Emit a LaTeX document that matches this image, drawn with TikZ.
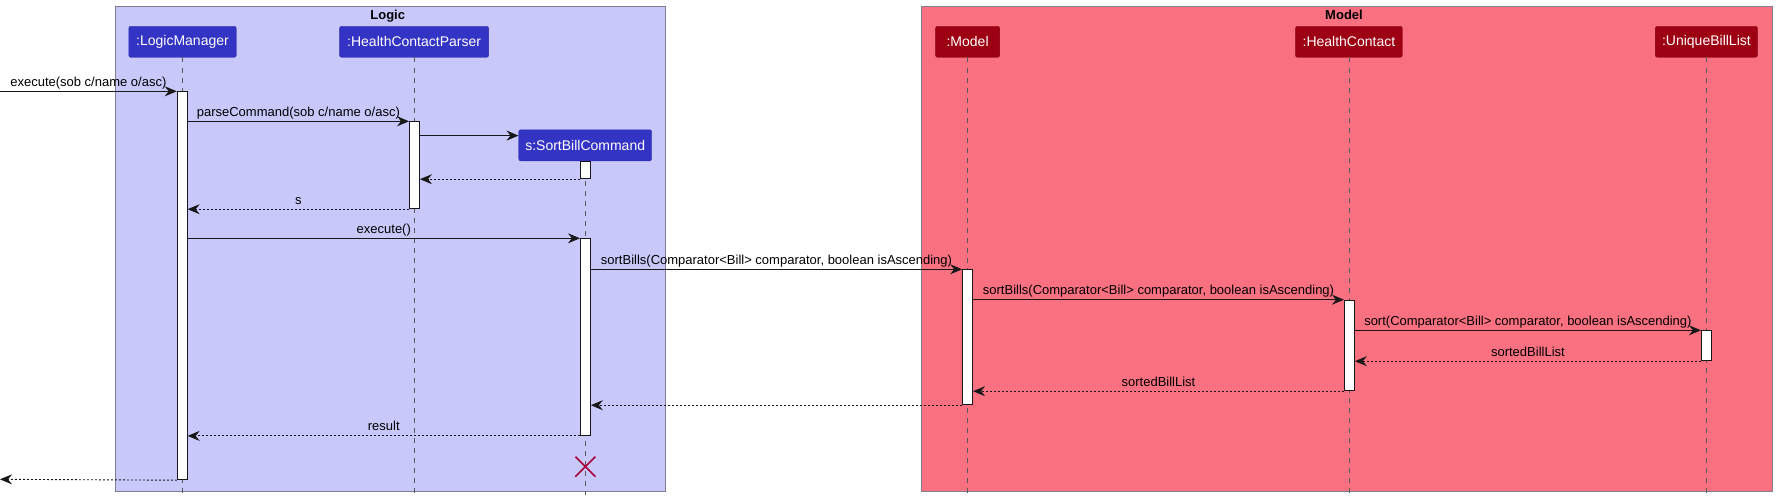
\documentclass[tikz,border=0pt]{standalone}
\usepackage{fontspec}
\setmainfont{Liberation Sans}
\usetikzlibrary{arrows.meta}
\definecolor{logicc}{HTML}{3333C4}
\definecolor{logict}{HTML}{C8C8FA}
\definecolor{modelc}{HTML}{9D0012}
\definecolor{modelt}{HTML}{F97181}
\definecolor{destroyc}{HTML}{A80036}
\definecolor{framec}{HTML}{7F7F8F}
\definecolor{linec}{HTML}{181818}
\begin{document}
\begin{tikzpicture}[x=1pt,y=-1pt,
  frame/.style={draw=framec,line width=0.9pt,rectangle,inner sep=0pt},
  ftitle/.style={font=\fontsize{13}{15}\selectfont\bfseries,anchor=base,inner sep=0pt},
  part/.style={rectangle,rounded corners=2pt,minimum height=31pt,inner sep=0pt,text=white,font=\fontsize{14}{16}\selectfont},
  lpart/.style={part,fill=logicc,draw=logicc!85!black},
  mpart/.style={part,fill=modelc,draw=modelc!85!black},
  act/.style={rectangle,draw=linec,fill=white,line width=0.9pt,minimum width=10pt,inner sep=0pt,anchor=north},
  life/.style={draw=black!65,line width=0.7pt,dash pattern=on 5pt off 5pt},
  msg/.style={draw=linec,line width=0.9pt,-{Stealth[length=12pt,width=10pt,inset=4pt]}},
  ret/.style={msg,dash pattern=on 2pt off 2pt},
  lbl/.style={font=\fontsize{13}{15}\selectfont,anchor=base,inner sep=0pt,yshift=5pt},
  destroy/.style={draw=destroyc,line width=1.6pt}
]
\useasboundingbox (0,0) rectangle (1776,503);
\fill[white] (0,0) rectangle (1776,503);

% frames
\node[frame,fill=logict,anchor=north west,minimum width=550.6pt,minimum height=485pt] (logicf) at (114.8,6) {};
\node[frame,fill=modelt,anchor=north west,minimum width=850.2pt,minimum height=485pt] (modelf) at (921.3,6) {};
\node[ftitle] (logict) at (387.7,19.3) {Logic};
\node[ftitle] (modelt) at (1344,19.3) {Model};

% participants
\node[lpart,minimum width=107.5pt] (lm) at (182.5,41.8) {:LogicManager};
\node[lpart,minimum width=149pt] (hp) at (414.1,41.8) {:HealthContactParser};
\node[lpart,minimum width=133pt] (sbc) at (585.2,145.3) {s:SortBillCommand};
\node[mpart,minimum width=64pt] (md) at (967.6,41.8) {:Model};
\node[mpart,minimum width=106.7pt] (hc) at (1348.9,41.8) {:HealthContact};
\node[mpart,minimum width=102pt] (ub) at (1706.4,41.8) {:UniqueBillList};

% lifelines
\coordinate (bot) at (0,495);
\draw[life] (lm.south) -- (lm.south |- bot);
\draw[life] (hp.south) -- (hp.south |- bot);
\draw[life] (sbc.south) -- (sbc.south |- bot);
\draw[life] (md.south) -- (md.south |- bot);
\draw[life] (hc.south) -- (hc.south |- bot);
\draw[life] (ub.south) -- (ub.south |- bot);

% activations
\node[act,minimum height=388pt] (lm1) at (182.2,91.3) {};
\node[act,minimum height=87pt] (hp1) at (414.5,121.3) {};
\node[act,minimum height=17pt] (sb1) at (585.4,161.3) {};
\node[act,minimum height=196.7pt] (sb2) at (585.4,238.3) {};
\node[act,minimum height=135pt] (md1) at (967.6,269.3) {};
\node[act,minimum height=90.6pt] (hc1) at (1349.4,299.7) {};
\node[act,minimum height=30pt] (ub1) at (1706.4,330.3) {};

% free ends
\coordinate (in) at (0,91.3);
\coordinate (out) at (0,479.3);
\coordinate (sbcin) at ([yshift=-6pt]sbc.north west);

% messages
\draw[msg] (in) -- (lm1.north west) node[lbl,midway] {execute(sob c/name o/asc)};
\draw[msg] (lm1.east |- hp1.north) -- (hp1.north west) node[lbl,midway] {parseCommand(sob c/name o/asc)};
\draw[msg] (hp1.east |- sbcin) -- (sbcin);
\draw[ret] (sb1.south west) -- (hp1.east |- sb1.south west);
\draw[ret] (hp1.south west) -- (lm1.east |- hp1.south west) node[lbl,midway] {s};
\draw[msg] (lm1.east |- sb2.north) -- (sb2.north west) node[lbl,midway] {execute()};
\draw[msg] (sb2.east |- md1.north) -- (md1.north west) node[lbl,midway] {sortBills(Comparator<Bill> comparator, boolean isAscending)};
\draw[msg] (md1.east |- hc1.north) -- (hc1.north west) node[lbl,midway] {sortBills(Comparator<Bill> comparator, boolean isAscending)};
\draw[msg] (hc1.east |- ub1.north) -- (ub1.north west) node[lbl,midway] {sort(Comparator<Bill> comparator, boolean isAscending)};
\draw[ret] (ub1.south west) -- (hc1.east |- ub1.south west) node[lbl,midway] {sortedBillList};
\draw[ret] (hc1.south west) -- (md1.east |- hc1.south west) node[lbl,midway] {sortedBillList};
\draw[ret] (md1.south west) -- (sb2.east |- md1.south west);
\draw[ret] (sb2.south west) -- (lm1.east |- sb2.south west) node[lbl,midway] {result};
\draw[ret] (lm1.south west) -- (out);

% destroy
\coordinate (dx) at (585.4,466.7);
\draw[destroy] ([shift={(-10pt,-10pt)}]dx) -- ([shift={(10pt,10pt)}]dx);
\draw[destroy] ([shift={(-10pt,10pt)}]dx) -- ([shift={(10pt,-10pt)}]dx);
\end{tikzpicture}
\end{document}
